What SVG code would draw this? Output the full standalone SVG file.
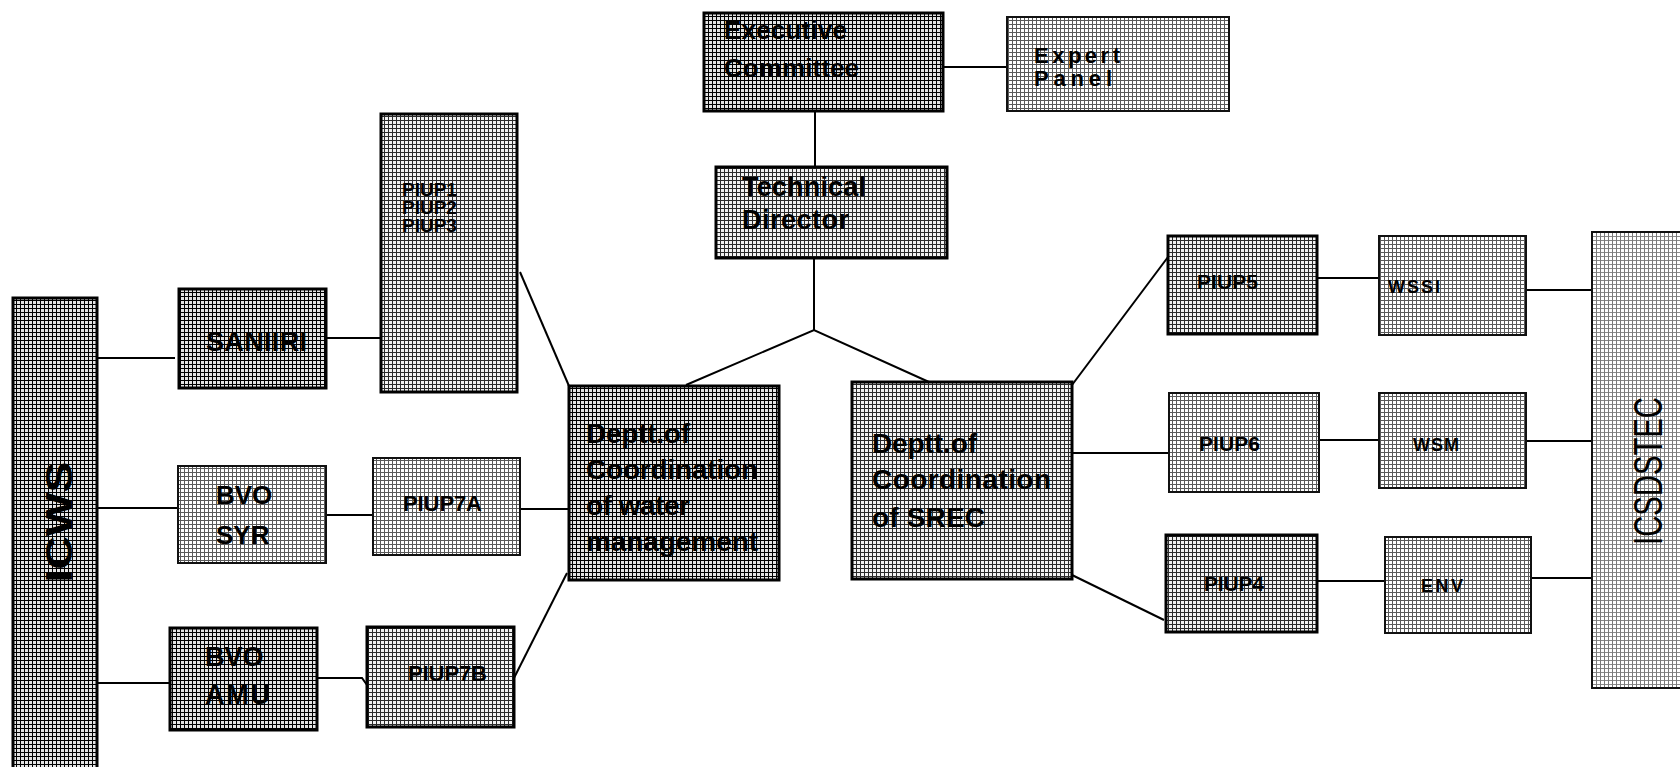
<svg xmlns="http://www.w3.org/2000/svg" width="1680" height="767" viewBox="0 0 1680 767">
<defs>
<pattern id="pd" width="4" height="4" patternUnits="userSpaceOnUse"><rect width="4" height="4" fill="#e4e4e4"/><rect width="4" height="1" fill="#000"/><rect width="1" height="4" fill="#000"/></pattern>
<pattern id="pm" width="4" height="4" patternUnits="userSpaceOnUse"><rect width="4" height="4" fill="#f2f2f2"/><rect width="4" height="1" fill="#2a2a2a"/><rect width="1" height="4" fill="#2a2a2a"/></pattern>
<pattern id="pl" width="4" height="4" patternUnits="userSpaceOnUse"><rect width="4" height="4" fill="#fff"/><rect width="4" height="1" fill="#5a5a5a"/><rect width="1" height="4" fill="#5a5a5a"/></pattern>
<pattern id="px" width="4" height="4" patternUnits="userSpaceOnUse"><rect width="4" height="4" fill="#fff"/><rect width="4" height="1" fill="#8a8a8a"/><rect width="1" height="4" fill="#7a7a7a"/></pattern>
</defs>
<style>
.d{fill:url(#pd);stroke:#000;stroke-width:3}
.m{fill:url(#pm);stroke:#000;stroke-width:3}
.l{fill:url(#pl);stroke:#111;stroke-width:2}
.x{fill:url(#px);stroke:#111;stroke-width:2}
.c line,.c polyline{stroke:#000;stroke-width:2;fill:none}
text{font-family:"Liberation Sans",Arial,Helvetica,sans-serif;font-weight:bold;fill:#000}
.t28{font-size:28px}
.t27{font-size:27px}
.t26{font-size:26px}
.t22{font-size:22px}
.t21{font-size:21px}
.t19{font-size:19px}
.t18{font-size:18px}
</style>
<rect width="1680" height="767" fill="#fff"/>
<g class="c">
<line x1="97" y1="358" x2="175" y2="358"/>
<line x1="97" y1="508" x2="178" y2="508"/>
<line x1="97" y1="683" x2="170" y2="683"/>
<line x1="326" y1="338" x2="381" y2="338"/>
<line x1="326" y1="515" x2="373" y2="515"/>
<polyline points="317,678 362,678 367,685"/>
<line x1="520" y1="272" x2="569" y2="386"/>
<line x1="520" y1="509" x2="569" y2="509"/>
<line x1="514" y1="678" x2="567" y2="573"/>
<line x1="943" y1="67" x2="1007" y2="67"/>
<line x1="815" y1="111" x2="815" y2="167"/>
<line x1="814" y1="258" x2="814" y2="330"/>
<polyline points="686,385 814,330 929,382"/>
<line x1="1072" y1="385" x2="1168" y2="257"/>
<line x1="1072" y1="453" x2="1169" y2="453"/>
<line x1="1072" y1="575" x2="1164" y2="620"/>
<line x1="1317" y1="278" x2="1379" y2="278"/>
<line x1="1319" y1="440" x2="1379" y2="440"/>
<line x1="1317" y1="581" x2="1385" y2="581"/>
<line x1="1526" y1="290" x2="1592" y2="290"/>
<line x1="1526" y1="441" x2="1592" y2="441"/>
<line x1="1531" y1="578" x2="1592" y2="578"/>
</g>
<g id="icws"><rect class="d" x="13" y="298" width="84" height="480"/><text transform="translate(72,522) rotate(-90)" text-anchor="middle" font-size="36" textLength="121" lengthAdjust="spacingAndGlyphs">ICWS</text></g>
<g id="saniiri"><rect class="d" x="179" y="289" width="147" height="99"/><text class="t27" x="206" y="351" textLength="101">SANIIRI</text></g>
<g id="piup123"><rect class="m" x="381" y="114" width="136" height="278"/><text class="t19" x="402" y="196">PIUP1</text><text class="t19" x="402" y="214">PIUP2</text><text class="t19" x="402" y="232">PIUP3</text></g>
<g id="bvo-syr"><rect class="l" x="178" y="466" width="148" height="97"/><text class="t26" x="216" y="504">BVO</text><text class="t26" x="216" y="544">SYR</text></g>
<g id="piup7a"><rect class="l" x="373" y="458" width="147" height="97"/><text class="t22" x="403" y="511" textLength="79">PIUP7A</text></g>
<g id="bvo-amu"><rect class="d" x="170" y="628" width="147" height="102"/><text class="t27" x="205" y="666">BVO</text><text class="t27" x="205" y="704" textLength="65">AMU</text></g>
<g id="piup7b"><rect class="m" x="367" y="627" width="147" height="100"/><text class="t22" x="408" y="681" textLength="79">PIUP7B</text></g>
<g id="dept-water"><rect class="d" x="569" y="386" width="210" height="194"/><text class="t28" x="586" y="443" textLength="104">Deptt.of</text><text class="t28" x="586" y="479" textLength="172">Coordination</text><text class="t28" x="586" y="515" textLength="104">of water</text><text class="t28" x="586" y="551" textLength="172">management</text></g>
<g id="dept-srec"><rect class="m" x="852" y="382" width="220" height="197"/><text class="t28" x="872" y="453" textLength="105">Deptt.of</text><text class="t28" x="872" y="489" textLength="179">Coordination</text><text class="t28" x="872" y="527" textLength="113">of SREC</text></g>
<g id="exec"><rect class="d" x="704" y="13" width="239" height="98"/><text class="t26" x="724" y="39" textLength="123">Executive</text><text class="t26" x="724" y="77" textLength="135">Committee</text></g>
<g id="expert"><rect class="l" x="1007" y="17" width="222" height="94"/><text class="t22" x="1034" y="63" textLength="86">Expert</text><text class="t22" x="1034" y="86" textLength="78">Panel</text></g>
<g id="tech"><rect class="m" x="716" y="167" width="231" height="91"/><text class="t27" x="742" y="196" textLength="124">Technical</text><text class="t27" x="742" y="229" textLength="107">Director</text></g>
<g id="piup5"><rect class="m" x="1168" y="236" width="149" height="98"/><text class="t21" x="1197" y="289" textLength="61">PIUP5</text></g>
<g id="wssi"><rect class="l" x="1379" y="236" width="147" height="99"/><text class="t18" x="1388" y="293" textLength="52">WSSI</text></g>
<g id="piup6"><rect class="l" x="1169" y="393" width="150" height="99"/><text class="t21" x="1199" y="451" textLength="61">PIUP6</text></g>
<g id="wsm"><rect class="l" x="1379" y="393" width="147" height="95"/><text class="t18" x="1413" y="451" textLength="46">WSM</text></g>
<g id="piup4"><rect class="m" x="1166" y="535" width="151" height="97"/><text class="t21" x="1204" y="591" textLength="60">PIUP4</text></g>
<g id="env"><rect class="l" x="1385" y="537" width="146" height="96"/><text class="t18" x="1421" y="592" textLength="42">ENV</text></g>
<g id="icsdstec"><rect class="x" x="1592" y="232" width="100" height="456"/><text transform="translate(1662,471) rotate(-90)" text-anchor="middle" font-size="40" style="font-weight:normal" textLength="148" lengthAdjust="spacingAndGlyphs">ICSDSTEC</text></g>
</svg>
